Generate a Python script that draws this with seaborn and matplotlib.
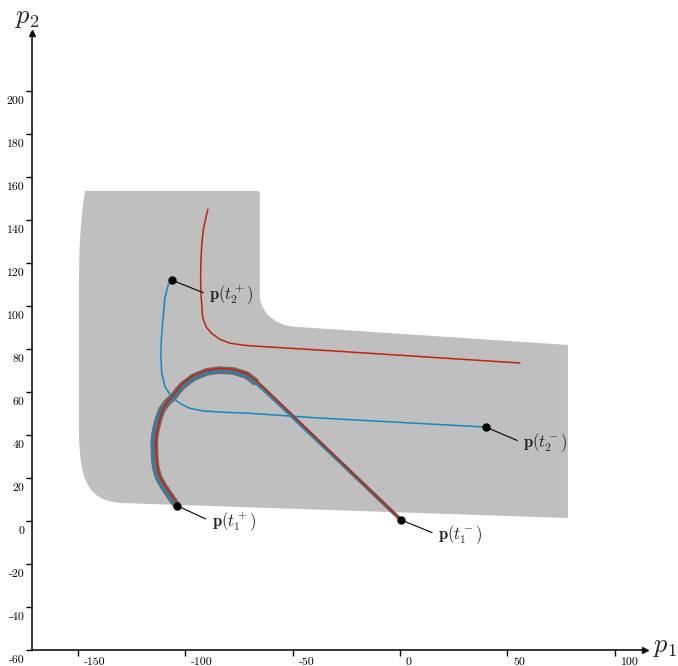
import matplotlib
matplotlib.use("Agg")
import matplotlib.pyplot as plt
import matplotlib.transforms as mtransforms
import pandas as pd
import seaborn as sns

# Reachable region (grey)
region_x = [-146.6, -147.3, -147.8, -148.3, -148.6, -149.0, -149.2, -149.4, -149.4,
            -149.1, -148.6, -147.9, -146.8, -145.3, -143.5, -141.2, -138.5, -134.8,
            -130.4, 78.2, 78.2, -49.7, -53.8, -57.4, -60.0, -62.1, -63.8, -64.9,
            -65.2, -65.2, -65.5, -66.2]
region_y = [153.5, 149.0, 145.0, 140.0, 136.0, 130.0, 125.0, 115.0, 38.0,
            33.0, 28.0, 24.0, 20.0, 16.8, 14.0, 12.0, 10.3, 9.1,
            8.4, 1.4, 81.9, 90.4, 91.2, 92.7, 94.6, 96.6, 99.2, 102.0,
            104.0, 152.5, 153.2, 153.5]

# Trajectory 2, red
red_x = [-89.4, -90.6, -91.6, -92.3, -92.7, -92.8, -92.6, -92.3, -91.9, -90.3,
         -87.7, -83.8, -79.1, -73.7, -69.8, -37.2, 55.9]
red_y = [145.1, 140.0, 135.0, 128.0, 120.0, 112.0, 105.0, 101.3, 95.0, 90.4,
         87.3, 84.5, 82.7, 81.9, 81.5, 79.5, 73.5]

# Trajectory 2, blue
blue_x = [-106.3, -107.9, -109.4, -110.5, -111.1, -111.3, -110.9, -109.4, -106.3,
          -102.4, -97.8, -91.6, -82.3, -69.8, -37.2, 40.0]
blue_y = [112.1, 109.8, 104.0, 92.0, 84.0, 76.4, 68.7, 62.5, 57.8,
          54.7, 52.4, 51.2, 50.6, 50.1, 47.9, 43.7]

# Trajectory 1 (loop): band centre, blue and red traces
loop_x = [-103.7, -105.8, -107.9, -110.4, -112.5, -113.6, -114.1, -114.4, -114.1,
          -113.3, -112.3, -110.9, -108.6, -105.5, -103.2, -100.9, -96.2, -90.0,
          -83.8, -77.6, -71.4, -66.7, -62.1, 0.5]
loop_y = [7.1, 9.9, 12.9, 16.7, 20.6, 24.5, 28.4, 36.1, 40.0,
          43.9, 47.7, 51.6, 54.9, 57.8, 60.8, 63.3, 66.8, 69.4,
          70.2, 69.8, 67.9, 64.3, 60.1, 0.5]
loop_blue_x = [-104.5, -106.7, -108.9, -111.4, -113.5, -114.6, -115.1, -115.4, -115.1,
               -114.2, -113.1, -111.5, -109.0, -105.7, -103.2, -100.8, -96.0, -89.9,
               -83.8, -77.7, -71.6, -67.0, -62.4, 0.5]
loop_blue_y = [7.2, 10.0, 13.0, 16.7, 20.6, 24.5, 28.4, 36.1, 40.0,
               43.9, 47.6, 51.3, 54.5, 57.3, 60.1, 62.6, 66.1, 68.8,
               69.6, 69.2, 67.3, 63.7, 59.6, 0.5]
loop_red_x = [-103.2, -105.2, -107.2, -109.7, -111.8, -112.9, -113.3, -113.6, -113.4,
              -112.6, -111.7, -110.4, -108.3, -105.3, -103.2, -101.0, -96.4, -90.1,
              -83.8, -77.5, -71.2, -66.4, -61.8, 0.5]
loop_red_y = [7.6, 10.3, 13.3, 17.0, 20.8, 24.6, 28.5, 36.1, 40.0,
              43.9, 47.9, 51.9, 55.4, 58.6, 61.6, 64.1, 67.6, 70.1,
              70.9, 70.5, 68.6, 65.0, 60.7, 0.5]

# Marked points and their labels
point_labels = [r"$\mathbf{p}(t_1^+)$", r"$\mathbf{p}(t_1^-)$",
                r"$\mathbf{p}(t_2^+)$", r"$\mathbf{p}(t_2^-)$"]
point_x = [-103.7, 0.5, -106.3, 40.0]
point_y = [7.1, 0.5, 112.1, 43.7]
text_x = [-87.7, 17.7, -88.8, 57.3]
text_y = [-0.3, -6.5, 105.1, 36.3]

xticks = [-150, -100, -50, 0, 50, 100]
yticks = [-60, -40, -20, 0, 20, 40, 60, 80, 100, 120, 140, 160, 180, 200]

RED = "#c1230b"
BLUE = "#1786c1"
GREY = "#bfbfbf"
BAND = "#6b6b6b"

sns.set_theme(style="white")
plt.rcParams["mathtext.fontset"] = "cm"
plt.rcParams["axes.unicode_minus"] = False
plt.rcParams["font.family"] = ["cmr10", "DejaVu Serif"]

fig = plt.figure(figsize=(6.78, 6.66), dpi=100)
ax = fig.add_axes([32 / 678, 16 / 666, 613 / 678, 617 / 666])

ax.fill(region_x, region_y, color=GREY, lw=0, zorder=1)

# band along the loop (wide on the arc, thin on the straight part)
ax.plot(loop_x[:22], loop_y[:22], color=BAND, lw=5.5, solid_capstyle="butt",
        solid_joinstyle="round", zorder=2)
ax.plot(loop_x[20:], loop_y[20:], color=BAND, lw=2.8, solid_capstyle="butt",
        solid_joinstyle="round", zorder=2)

line_kw = dict(sort=False, lw=1.1, ax=ax, estimator=None)
sns.lineplot(data=pd.DataFrame({"x": red_x, "y": red_y}), x="x", y="y",
             color=RED, zorder=3, **line_kw)
sns.lineplot(data=pd.DataFrame({"x": blue_x, "y": blue_y}), x="x", y="y",
             color=BLUE, zorder=3, **line_kw)
sns.lineplot(data=pd.DataFrame({"x": loop_blue_x, "y": loop_blue_y}), x="x", y="y",
             color=BLUE, zorder=3, **line_kw)
sns.lineplot(data=pd.DataFrame({"x": loop_red_x, "y": loop_red_y}), x="x", y="y",
             color=RED, zorder=4, **line_kw)

ax.plot(point_x, point_y, "o", color="black", ms=5, zorder=6)
for lab, px, py, tx, ty in zip(point_labels, point_x, point_y, text_x, text_y):
    ax.annotate(lab, xy=(px, py), xytext=(tx, ty), fontsize=12, ha="left", va="center",
                arrowprops=dict(arrowstyle="-", color="black", lw=0.8,
                                shrinkA=2, shrinkB=0, relpos=(0, 0.5)),
                zorder=6)

ax.set_xlim(-171.3, 114.1)
ax.set_ylim(-60, 227)
ax.set_xlabel("")
ax.set_ylabel("")

for side in ["top", "right"]:
    ax.spines[side].set_visible(False)
for side in ["left", "bottom"]:
    ax.spines[side].set_color("black")
    ax.spines[side].set_linewidth(1.1)

ax.plot(1, 0, ">k", ms=5, transform=ax.transAxes, clip_on=False)
ax.plot(0, 1, "^k", ms=5, transform=ax.transAxes, clip_on=False)

ax.set_xticks(xticks)
ax.set_xticklabels([str(v) for v in xticks])
ax.set_yticks(yticks)
ax.set_yticklabels([str(v) for v in yticks])
ax.tick_params(axis="both", direction="out", length=4, width=1.0, colors="black",
               labelsize=8.5, pad=1.5, bottom=True, left=True)

dx = mtransforms.ScaledTranslation(6 / 100, 0, fig.dpi_scale_trans)
for lab in ax.get_xticklabels():
    lab.set_ha("left")
    lab.set_transform(lab.get_transform() + dx)
dy = mtransforms.ScaledTranslation(0, -5 / 100, fig.dpi_scale_trans)
for lab in ax.get_yticklabels():
    lab.set_va("top")
    lab.set_transform(lab.get_transform() + dy)

ax.text(1.033, 0.005, r"$p_1$", transform=ax.transAxes, fontsize=19,
        ha="center", va="center")
ax.text(-0.008, 1.024, r"$p_2$", transform=ax.transAxes, fontsize=19,
        ha="center", va="center")

fig.savefig("out.png", dpi=100, facecolor="white")
